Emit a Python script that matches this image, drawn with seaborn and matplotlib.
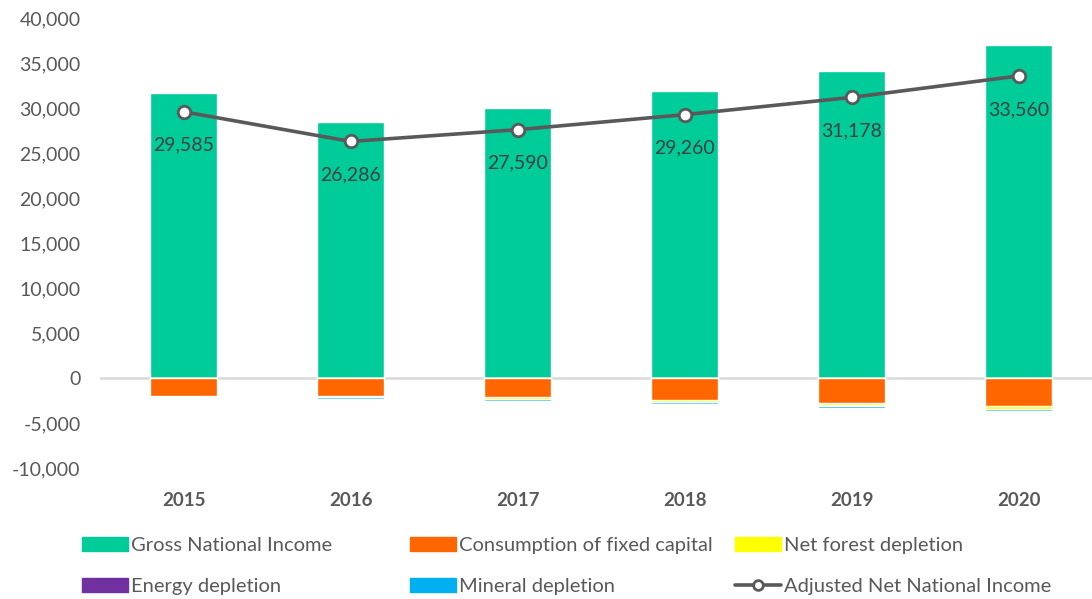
import matplotlib
matplotlib.use('Agg')
import matplotlib.pyplot as plt
import seaborn as sns
import numpy as np
import pandas as pd
from matplotlib.patches import Patch
from matplotlib.lines import Line2D

# data
years = ['2015', '2016', '2017', '2018', '2019', '2020']
gni = [31700, 28450, 30000, 31900, 34100, 37000]
fixed_capital = [1950, 1950, 2100, 2400, 2800, 3100]
forest_depletion = [120, 150, 250, 250, 250, 380]
energy_depletion = [10, 10, 10, 10, 10, 10]
mineral_depletion = [150, 200, 250, 200, 250, 200]
anni = [29585, 26286, 27590, 29260, 31178, 33560]

colors = {
    'Gross National Income': '#00CC99',
    'Consumption of fixed capital': '#FF6600',
    'Net forest depletion': '#FFFF00',
    'Energy depletion': '#7030A0',
    'Mineral depletion': '#00B0F0',
}
line_color = '#595959'
text_color = '#595959'

sns.set_style("white")
plt.rcParams['font.family'] = ['Lato', 'DejaVu Sans']

fig = plt.figure(figsize=(10.92, 5.99), dpi=100)
ax = fig.add_axes([100 / 1092, 1 - 468 / 599, 1 - 100 / 1092, (468 - 18) / 599])

df = pd.DataFrame({'year': years, 'gni': gni})
sns.barplot(data=df, x='year', y='gni', color=colors['Gross National Income'],
            width=0.4, saturation=1, ax=ax)

# negative stack: draw cumulative depths, deepest first
neg_parts = [
    ('Consumption of fixed capital', fixed_capital),
    ('Net forest depletion', forest_depletion),
    ('Energy depletion', energy_depletion),
    ('Mineral depletion', mineral_depletion),
]
cum = np.cumsum([np.array(v) for _, v in neg_parts], axis=0)
for i in range(len(neg_parts) - 1, -1, -1):
    name = neg_parts[i][0]
    sns.barplot(x=years, y=-cum[i], color=colors[name], width=0.4,
                saturation=1, ax=ax)

# adjusted net national income line
sns.lineplot(x=np.arange(len(years)), y=anni, color=line_color, lw=2.6,
             marker='o', markersize=9, markerfacecolor='white',
             markeredgecolor=line_color, markeredgewidth=2, ax=ax, zorder=5)
for i, v in enumerate(anni):
    ax.annotate(f'{v:,}', (i, v), xytext=(0, -18), textcoords='offset points',
                ha='center', va='top', fontsize=14, color='#404040')

ax.axhline(0, color='#D9D9D9', lw=1.8, zorder=0.5)
ax.set_ylim(-10000, 40000)
ax.set_xlim(-0.5, 5.44)
ax.set_yticks(range(-10000, 40001, 5000))
ax.set_yticklabels([f'{t:,}' for t in range(-10000, 40001, 5000)])
ax.set_xlabel('')
ax.set_ylabel('')
ax.tick_params(axis='y', labelsize=14, colors=text_color, length=0, pad=14)
ax.tick_params(axis='x', labelsize=13.5, colors=text_color, length=0, pad=17)
for lbl in ax.get_xticklabels():
    lbl.set_fontweight('bold')
sns.despine(ax=ax, left=True, bottom=True)

# legend: three columns placed by hand
entries = [
    [('Gross National Income', Patch(color=colors['Gross National Income'])),
     ('Energy depletion', Patch(color=colors['Energy depletion']))],
    [('Consumption of fixed capital', Patch(color=colors['Consumption of fixed capital'])),
     ('Mineral depletion', Patch(color=colors['Mineral depletion']))],
    [('Net forest depletion', Patch(color=colors['Net forest depletion'])),
     ('Adjusted Net National Income',
      Line2D([], [], color=line_color, lw=2.6, marker='o', markersize=7,
             markerfacecolor='white', markeredgecolor=line_color, markeredgewidth=2))],
]
col_x = [82, 410, 735]
for x0, col in zip(col_x, entries):
    leg = fig.legend([h for _, h in col], [l for l, _ in col], loc='center left',
                     bbox_to_anchor=(x0 / 1092, 1 - 566 / 599), frameon=False,
                     fontsize=14.5, handlelength=2.3, handleheight=0.7,
                     handletextpad=0.15, labelspacing=1.2, borderpad=0,
                     borderaxespad=0)
    for t in leg.get_texts():
        t.set_color(text_color)

fig.savefig('out.png', dpi=100)
